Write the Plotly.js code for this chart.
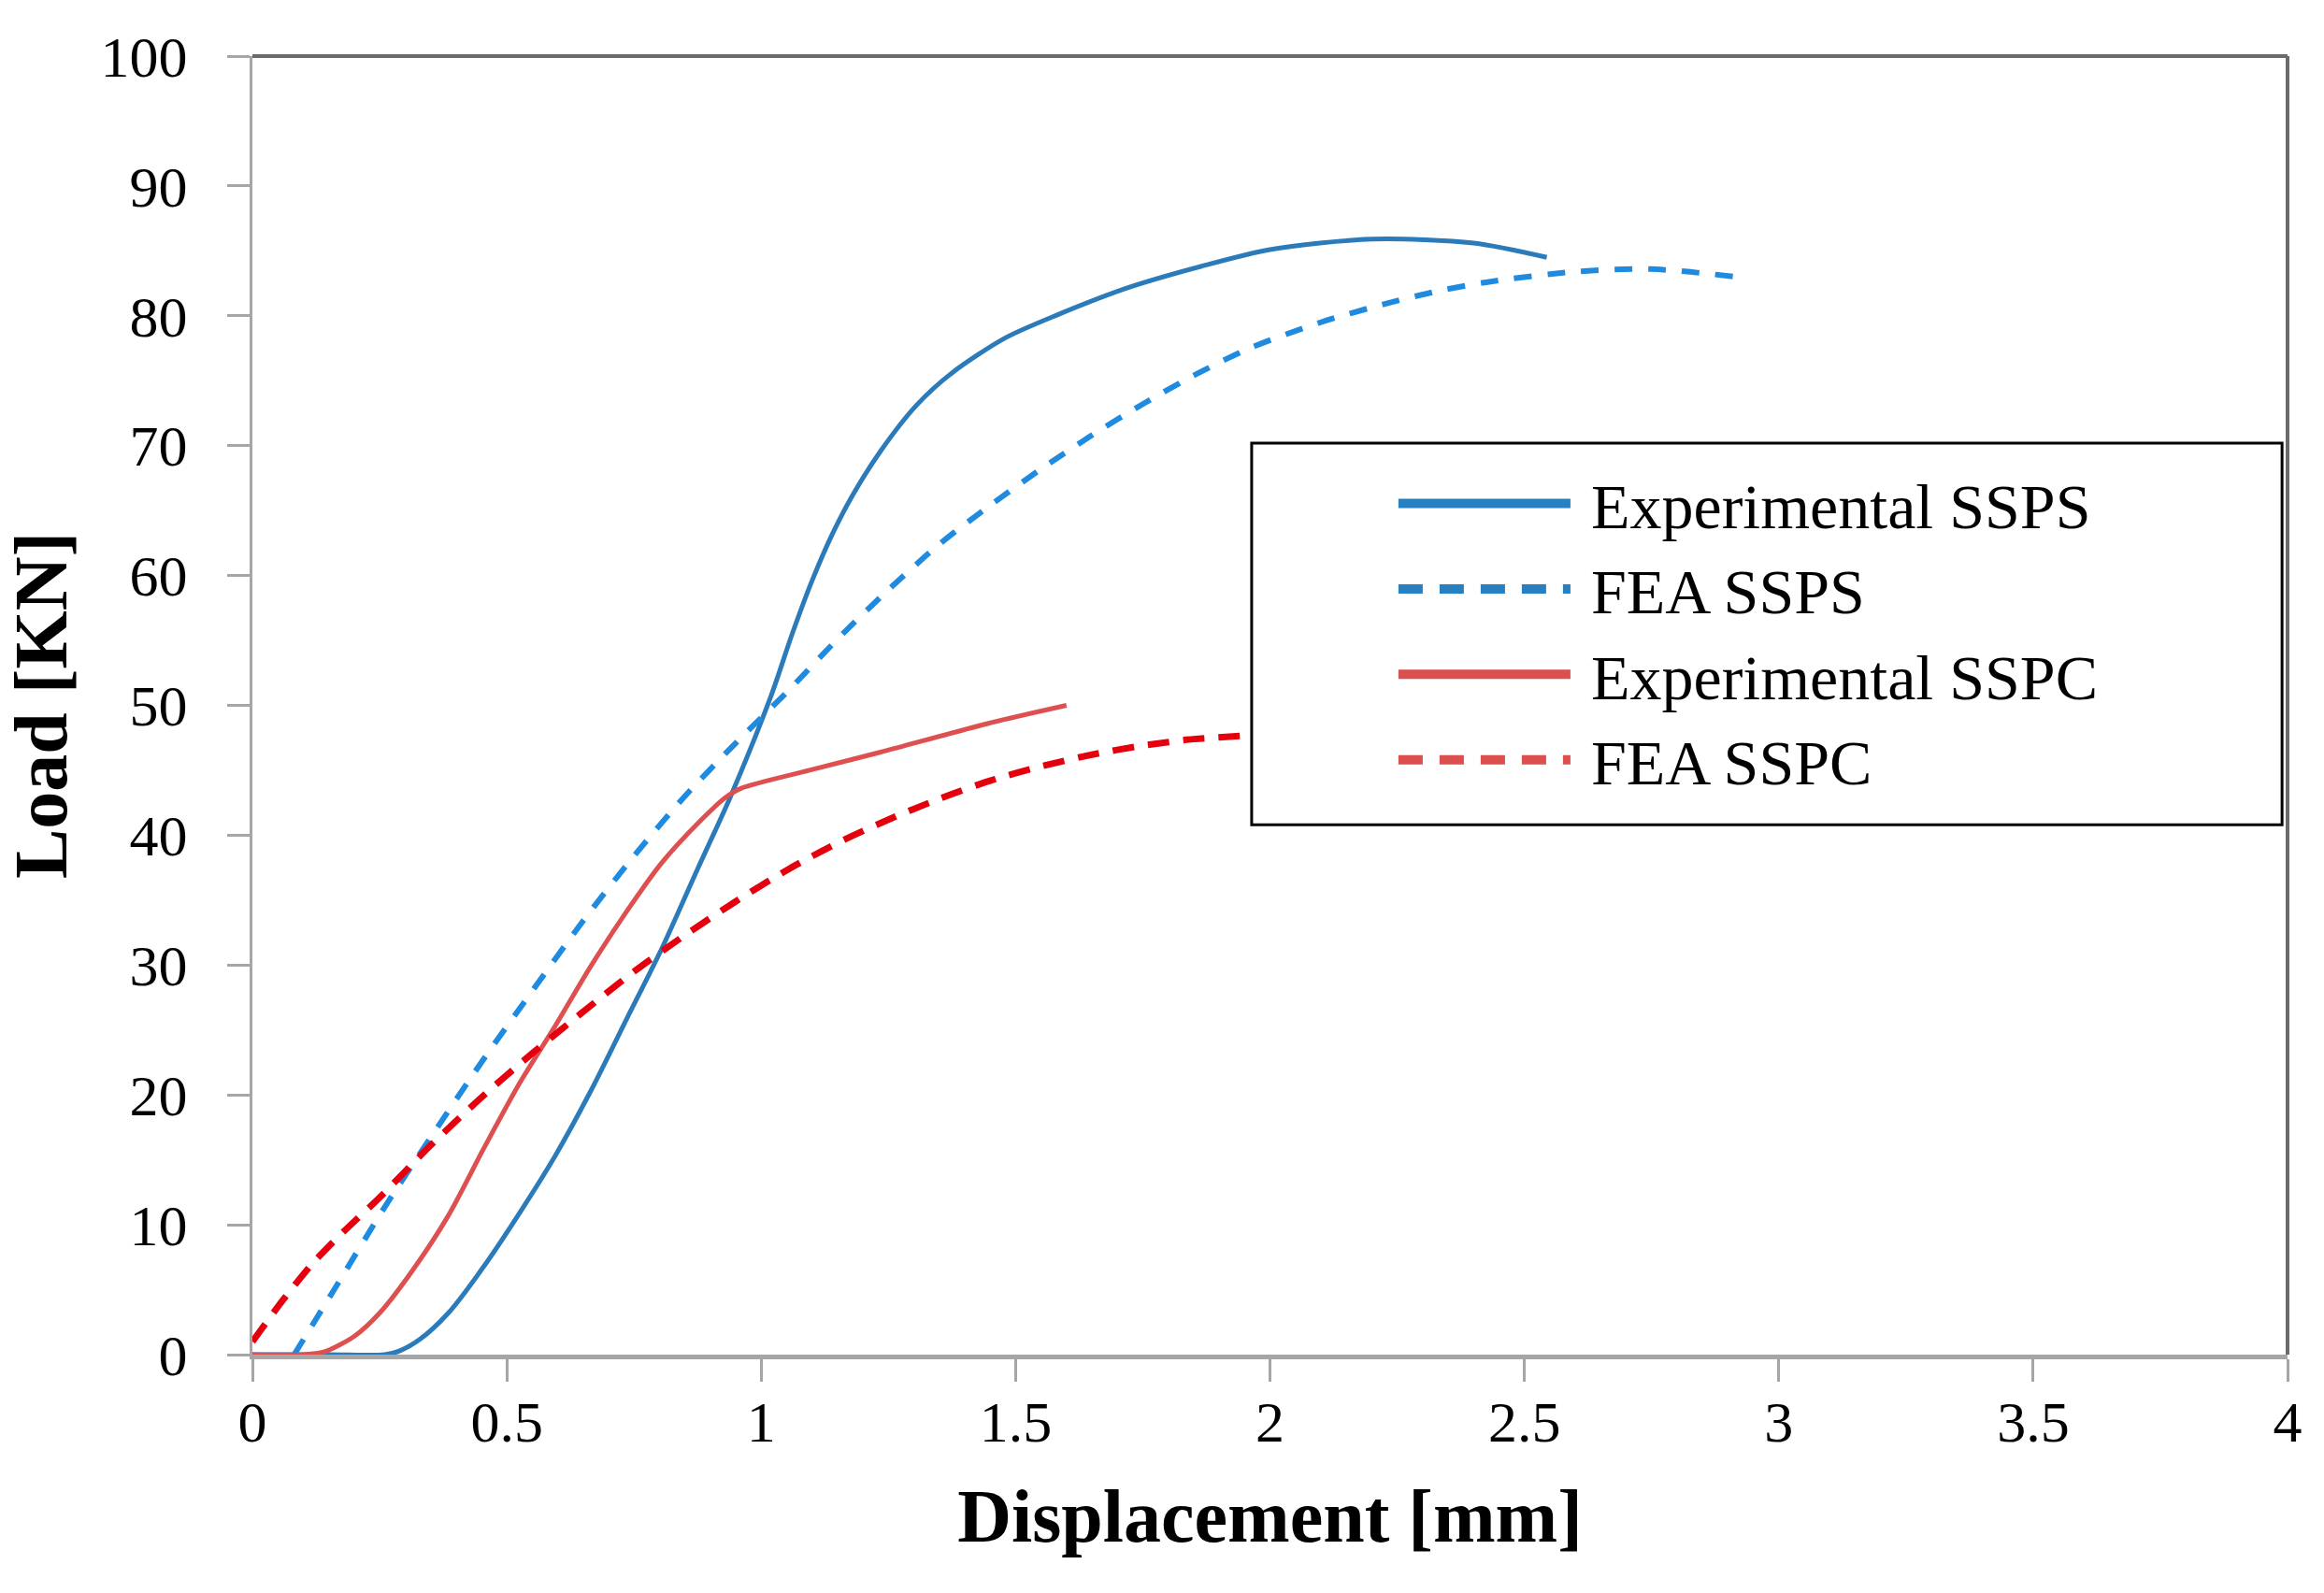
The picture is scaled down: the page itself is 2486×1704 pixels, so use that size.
<!DOCTYPE html>
<html>
<head>
<meta charset="utf-8">
<script src="https://cdn.plot.ly/plotly-3.0.1.min.js"></script>
<style>
  html, body { margin: 0; padding: 0; background: #fff; }
  #graph { width: 2486px; height: 1704px; }
</style>
</head>
<body>
<div id="graph"></div>
<script>
// values
const expSspsX = [0, 0.15, 0.26, 0.29, 0.33, 0.385, 0.455, 0.525, 0.595, 0.665, 0.735, 0.805, 0.875, 0.94, 1.02, 1.06, 1.10, 1.14, 1.18, 1.235, 1.305, 1.375, 1.48, 1.584, 1.724, 1.864, 2.0, 2.2, 2.4, 2.544];
const expSspsY = [0, 0, 0, 0.3, 1.2, 3.2, 6.8, 10.9, 15.3, 20.3, 25.8, 31.3, 37.4, 43.0, 50.8, 55.4, 59.6, 63.2, 66.2, 69.6, 73.1, 75.6, 78.3, 80.1, 82.2, 83.8, 85.1, 85.9, 85.6, 84.5];

const feaSspsX = [0.082, 0.17, 0.259, 0.35, 0.45, 0.55, 0.65, 0.75, 0.85, 0.95, 1.05, 1.15, 1.25, 1.35, 1.45, 1.55, 1.65, 1.75, 1.85, 1.96, 2.1, 2.224, 2.33, 2.428, 2.6, 2.748, 2.917];
const feaSspsY = [0, 5.6, 11.3, 16.7, 22.5, 28.0, 33.4, 38.4, 43.0, 47.1, 51.0, 55.1, 58.9, 62.4, 65.4, 68.2, 70.8, 73.2, 75.4, 77.5, 79.5, 80.9, 81.9, 82.6, 83.4, 83.6, 83.0];

const expSspcX = [0, 0.1, 0.14, 0.2, 0.25, 0.315, 0.385, 0.455, 0.525, 0.595, 0.665, 0.735, 0.805, 0.875, 0.93, 0.96, 1.095, 1.235, 1.445, 1.6];
const expSspcY = [0, 0, 0.2, 1.4, 3.2, 6.5, 10.7, 15.9, 20.9, 25.3, 29.9, 34.1, 37.9, 40.9, 42.9, 43.6, 45.0, 46.4, 48.6, 50.0];

const feaSspcX = [0, 0.06, 0.12, 0.18, 0.25, 0.35, 0.45, 0.55, 0.65, 0.75, 0.85, 0.95, 1.05, 1.15, 1.25, 1.35, 1.45, 1.55, 1.65, 1.75, 1.85, 1.97];
const feaSspcY = [1.0, 4.2, 7.1, 9.5, 12.1, 16.1, 19.8, 23.2, 26.4, 29.5, 32.3, 34.9, 37.3, 39.4, 41.2, 42.8, 44.2, 45.3, 46.2, 46.9, 47.4, 47.7];

const names = ['Experimental SSPS', 'FEA SSPS', 'Experimental SSPC', 'FEA SSPC'];
const xTicks = [0, 0.5, 1, 1.5, 2, 2.5, 3, 3.5, 4];
const yTicks = [0, 10, 20, 30, 40, 50, 60, 70, 80, 90, 100];

const serif = 'Liberation Serif, Times New Roman, serif';

// the curves themselves
const traces = [
  { x: expSspsX, y: expSspsY, name: names[0], mode: 'lines', showlegend: false,
    line: { color: '#2b7bba', width: 5, shape: 'spline', smoothing: 0.8 } },
  { x: feaSspsX, y: feaSspsY, name: names[1], mode: 'lines', showlegend: false,
    line: { color: '#1f8be0', width: 6, dash: '19px,17px', shape: 'spline', smoothing: 0.8 } },
  { x: expSspcX, y: expSspcY, name: names[2], mode: 'lines', showlegend: false,
    line: { color: '#de5050', width: 5, shape: 'spline', smoothing: 0.8 } },
  { x: feaSspcX, y: feaSspcY, name: names[3], mode: 'lines', showlegend: false,
    line: { color: '#e6000e', width: 7, dash: '23px,15px', shape: 'spline', smoothing: 0.8 } }
];

// legend entries only (thicker keys like the original)
const legendStyles = [
  { color: '#2680c2', dash: 'solid' },
  { color: '#2680c2', dash: '26px,18px' },
  { color: '#dc4f4f', dash: 'solid' },
  { color: '#dc4f4f', dash: '26px,18px' }
];
legendStyles.forEach((s, i) => {
  // leading no-break space keeps a small gap between key and label
  traces.push({ x: [null], y: [null], name: '\u00a0' + names[i], mode: 'lines',
    hoverinfo: 'skip', line: { color: s.color, width: 11, dash: s.dash } });
});

const layout = {
  width: 2486,
  height: 1704,
  margin: { l: 270, r: 39, t: 60, b: 255 },
  paper_bgcolor: '#fff',
  plot_bgcolor: '#fff',
  font: { family: serif, color: '#000' },
  showlegend: true,
  legend: {
    x: 0.491, y: 0.692, xanchor: 'left', yanchor: 'top',
    bgcolor: 'rgba(0,0,0,0)', borderwidth: 0,
    font: { family: serif, size: 68, color: '#000' },
    indentation: 152,
    itemwidth: 184,
    tracegroupgap: 0
  },
  xaxis: {
    range: [0, 4],
    tickvals: xTicks,
    ticktext: xTicks.map(String),
    showgrid: false, zeroline: false,
    showline: true, linecolor: '#a6a6a6', linewidth: 5,
    ticks: 'outside', ticklen: 24, tickwidth: 3, tickcolor: '#a6a6a6',
    ticklabelstandoff: -10,
    tickfont: { family: serif, size: 62, color: '#000' },
    title: { text: '<b>Displacement [mm]</b>', standoff: 40,
      font: { family: serif, size: 80, color: '#000' } }
  },
  yaxis: {
    range: [0, 100],
    tickvals: yTicks,
    ticktext: yTicks.map(String),
    showgrid: false, zeroline: false,
    showline: true, linecolor: '#a6a6a6', linewidth: 3,
    ticks: 'outside', ticklen: 24, tickwidth: 3, tickcolor: '#a6a6a6',
    ticklabelstandoff: 30,
    tickfont: { family: serif, size: 62, color: '#000' },
    title: { text: '<b>Load [KN]</b>', standoff: 24,
      font: { family: serif, size: 80, color: '#000' } }
  },
  shapes: [
    { type: 'line', xref: 'paper', yref: 'paper', x0: 0, x1: 1, y0: 1, y1: 1,
      line: { color: '#6b6b6b', width: 4 } },
    { type: 'line', xref: 'paper', yref: 'paper', x0: 1, x1: 1, y0: 0, y1: 1,
      line: { color: '#6b6b6b', width: 4 } },
    // legend frame
    { type: 'rect', xref: 'paper', yref: 'paper', layer: 'above',
      x0: 0.491, x1: 0.9973, y0: 0.408, y1: 0.702,
      fillcolor: '#fff', line: { color: '#000', width: 3 } }
  ]
};

Plotly.newPlot('graph', traces, layout, { displayModeBar: false, staticPlot: true });
</script>
</body>
</html>
